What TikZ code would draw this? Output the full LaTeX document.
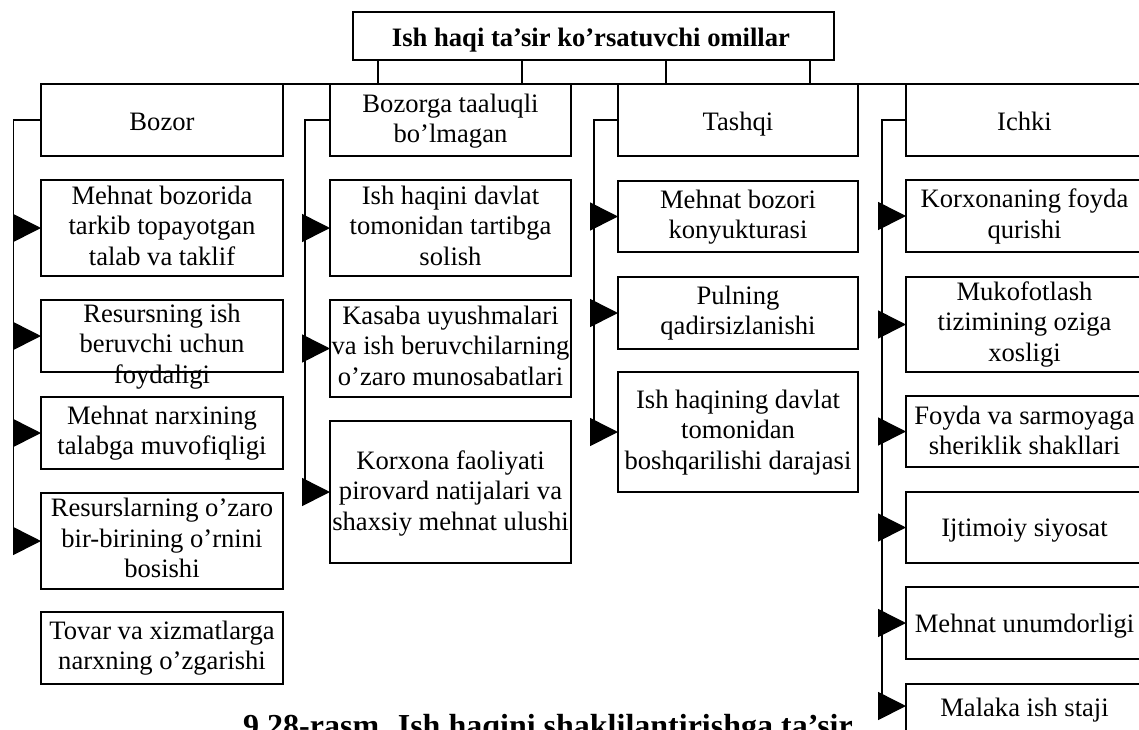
\documentclass[tikz,border=0pt]{standalone}
\usepackage{fontspec}
\setmainfont{Liberation Serif}
\usetikzlibrary{arrows.meta,calc}

\begin{document}
\begin{tikzpicture}[x=1pt,y=-1pt,
  box/.style={draw, line width=1.3pt, inner sep=0pt, outer sep=0pt},
  wide/.style={minimum width=242pt},
  txt/.style={anchor=north, inner sep=0pt, align=center,
    font=\fontsize{26.6}{30.5}\selectfont, execute at begin node=\strut},
  bus/.style={line width=1.6pt},
  feed/.style={line width=1.6pt, -{Triangle[length=28pt,width=28pt]}}
]
\useasboundingbox (0,0) rectangle (1139,729);
\fill[white] (0,0) rectangle (1139,729);
\clip (0,0) rectangle (1139,729);

% main heading
\node[box, minimum width=481pt, minimum height=48pt] (title) at (593.5,36) {};
\node[txt, font=\fontsize{26.6}{30.5}\selectfont\bfseries] (titlet) at (591,25.35)
  {Ish haqi ta’sir ko’rsatuvchi omillar};

% group headings
\node[box, wide, minimum height=72pt] (bozor) at (162,120) {};
\node[box, minimum width=241pt, minimum height=72pt] (bozorga) at (450.5,120) {};
\node[box, minimum width=240pt, minimum height=72pt] (tashqi) at (738,120) {};
\node[box, minimum width=237pt, minimum height=72pt] (ichki) at (1024.5,120) {};
\node[txt] (bozort) at (162,108.65) {Bozor};
\node[txt] (bozorgat) at (450.5,93.65) {Bozorga taaluqli\\bo’lmagan};
\node[txt] (tashqit) at (738,108.65) {Tashqi};
\node[txt] (ichkit) at (1024.5,108.65) {Ichki};

% links from the heading down to the bus
\coordinate (j1) at (378,84);
\coordinate (j2) at (522,84);
\coordinate (j3) at (666,84);
\coordinate (j4) at (810,84);
\foreach \j in {j1,j2,j3,j4} \draw[bus] (\j |- title.south) -- (\j);
\draw[bus] (bozor.north west) -- (ichki.north east);

% column 1: Bozor
\node[box, wide, minimum height=96pt] (a1) at (162,228) {};
\node[box, wide, minimum height=72pt] (a2) at (162,336) {};
\node[box, wide, minimum height=72pt] (a3) at (162,433) {};
\node[box, wide, minimum height=96pt] (a4) at (162,541) {};
\node[box, wide, minimum height=72pt] (a5) at (162,648) {};
\node[txt] (a1t) at (162,185.35) {Mehnat bozorida\\tarkib topayotgan\\talab va taklif};
\node[txt] (a2t) at (162,303.65) {Resursning ish\\beruvchi uchun\\foydaligi};
\node[txt] (a3t) at (162,405.35) {Mehnat narxining\\talabga muvofiqligi};
\node[txt] (a4t) at (162,497.95) {Resurslarning o’zaro\\bir-birining o’rnini\\bosishi};
\node[txt] (a5t) at (162,620.35) {Tovar va xizmatlarga\\narxning o’zgarishi};

% column 2: Bozorga taaluqli bo'lmagan
\node[box, minimum width=241pt, minimum height=96pt] (b1) at (450.5,228) {};
\node[box, minimum width=241pt, minimum height=97pt] (b2) at (450.5,348.5) {};
\node[box, minimum width=241pt, minimum height=142pt] (b3) at (450.5,492) {};
\node[txt] (b1t) at (450.5,185.35) {Ish haqini davlat\\tomonidan tartibga\\solish};
\node[txt] (b2t) at (450.5,305.35) {Kasaba uyushmalari\\va ish beruvchilarning\\o’zaro munosabatlari};
\node[txt] (b3t) at (450.5,450.35) {Korxona faoliyati\\pirovard natijalari va\\shaxsiy mehnat ulushi};

% column 3: Tashqi
\node[box, minimum width=240pt, minimum height=71pt] (c1) at (738,216.5) {};
\node[box, minimum width=240pt, minimum height=72pt] (c2) at (738,313) {};
\node[box, minimum width=240pt, minimum height=120pt] (c3) at (738,432) {};
\node[txt] (c1t) at (738,189.35) {Mehnat bozori\\konyukturasi};
\node[txt] (c2t) at (738,285.35) {Pulning\\qadirsizlanishi};
\node[txt] (c3t) at (738,389.35) {Ish haqining davlat\\tomonidan\\boshqarilishi darajasi};

% column 4: Ichki
\node[box, minimum width=237pt, minimum height=72pt] (d1) at (1024.5,216) {};
\node[box, minimum width=237pt, minimum height=95pt] (d2) at (1024.5,324.5) {};
\node[box, minimum width=237pt, minimum height=71pt] (d3) at (1024.5,431.5) {};
\node[box, minimum width=237pt, minimum height=71pt] (d4) at (1024.5,527.5) {};
\node[box, minimum width=237pt, minimum height=72pt] (d5) at (1024.5,623) {};
\node[box, minimum width=237pt, minimum height=72pt] (d6) at (1024.5,720) {};
\node[txt] (d1t) at (1024.5,188.65) {Korxonaning foyda\\qurishi};
\node[txt] (d2t) at (1024.5,281.35) {Mukofotlash\\tizimining oziga\\xosligi};
\node[txt] (d3t) at (1024.5,405.35) {Foyda va sarmoyaga\\sheriklik shakllari};
\node[txt] (d4t) at (1024.5,515.35) {Ijtimoiy siyosat};
\node[txt] (d5t) at (1024.5,611.35) {Mehnat unumdorligi};
\node[txt] (d6t) at (1024.5,694.65) {Malaka ish staji};

% spines along the left of each column
\coordinate (s1) at (13.4,120);  \coordinate (s1e) at (13.4,541);
\coordinate (s2) at (305,120);   \coordinate (s2e) at (305,492);
\coordinate (s3) at (594,120);   \coordinate (s3e) at (594,432);
\coordinate (s4) at (882,120);   \coordinate (s4e) at (882,706);
\draw[bus] (bozor.west) -- (s1) -- (s1e);
\draw[bus] (bozorga.west) -- (s2) -- (s2e);
\draw[bus] (tashqi.west) -- (s3) -- (s3e);
\draw[bus] (ichki.west) -- (s4) -- (s4e);

% feeds into the factor boxes
\foreach \b in {a1,a2,a3,a4} \draw[feed] (s1 |- \b.west) -- (\b.west);
\foreach \b in {b1,b2,b3} \draw[feed] (s2 |- \b.west) -- (\b.west);
\foreach \b in {c1,c2,c3} \draw[feed] (s3 |- \b.west) -- (\b.west);
\foreach \b in {d1,d2,d3,d4,d5} \draw[feed] (s4 |- \b.west) -- (\b.west);
\draw[feed] (s4e) -- (d6.west |- s4e);

% figure caption
\node[anchor=base, inner sep=0pt, font=\fontsize{32}{36}\selectfont\bfseries] (caption)
  at (548,736) {9.28-rasm. Ish haqini shaklilantirishga ta’sir};
\end{tikzpicture}
\end{document}
